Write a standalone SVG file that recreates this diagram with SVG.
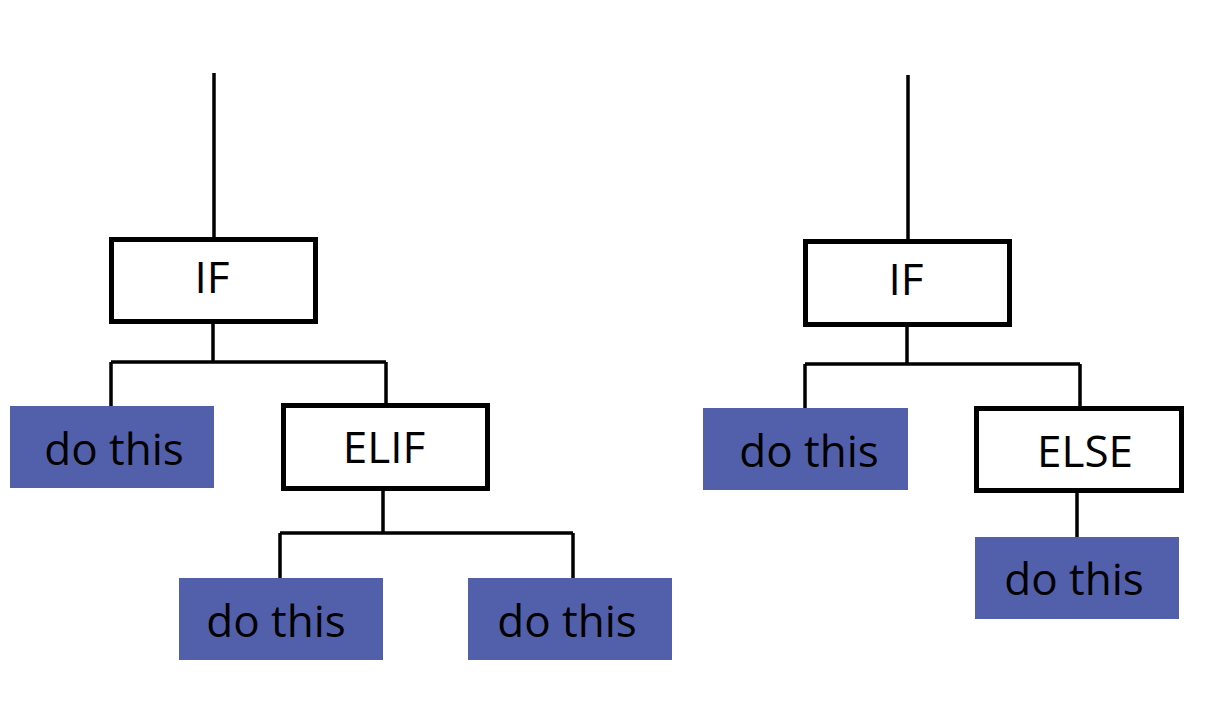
<svg xmlns="http://www.w3.org/2000/svg" width="1218" height="709" viewBox="0 0 1218 709">
<style>
.cond{fill:#ffffff;stroke:#000000;stroke-width:5}
.act{fill:#5260AC}
.lbl{font-family:"Open Sans","Noto Sans",sans-serif;font-size:44px;fill:#000000;text-anchor:middle}
.wire{fill:none;stroke:#000000;stroke-width:3.5}
</style>
<rect width="1218" height="709" fill="#ffffff"/>
<g id="connectors">
<path class="wire" d="M214 73 V240"/>
<path class="wire" d="M213 322 V362 M111 362 H386 M111 362 V406 M386 362 V405"/>
<path class="wire" d="M383 488 V533 M280 533 H573 M280 533 V578 M573 533 V578"/>
<path class="wire" d="M908 75 V242"/>
<path class="wire" d="M907 325 V364 M805 364 H1080 M805 364 V408 M1080 364 V408"/>
<path class="wire" d="M1077 491 V537"/>
</g>
<g id="if1"><rect class="cond" x="111.5" y="239.5" width="204" height="82"/><text class="lbl" x="212" y="293">IF</text></g>
<g id="do1"><rect class="act" x="10" y="406" width="204" height="82"/><text class="lbl" x="114" y="465">do this</text></g>
<g id="elif"><rect class="cond" x="283.5" y="405.5" width="204" height="83"/><text class="lbl" x="384" y="463">ELIF</text></g>
<g id="do2"><rect class="act" x="179" y="578" width="204" height="82"/><text class="lbl" x="276" y="637">do this</text></g>
<g id="do3"><rect class="act" x="468" y="578" width="204" height="82"/><text class="lbl" x="567" y="637">do this</text></g>
<g id="if2"><rect class="cond" x="805.5" y="241.5" width="204" height="83"/><text class="lbl" x="906" y="295">IF</text></g>
<g id="do4"><rect class="act" x="703" y="408" width="205" height="82"/><text class="lbl" x="809" y="467">do this</text></g>
<g id="else"><rect class="cond" x="976.5" y="408.5" width="205" height="82"/><text class="lbl" x="1085" y="467">ELSE</text></g>
<g id="do5"><rect class="act" x="975" y="537" width="204" height="82"/><text class="lbl" x="1074" y="595">do this</text></g>
</svg>
